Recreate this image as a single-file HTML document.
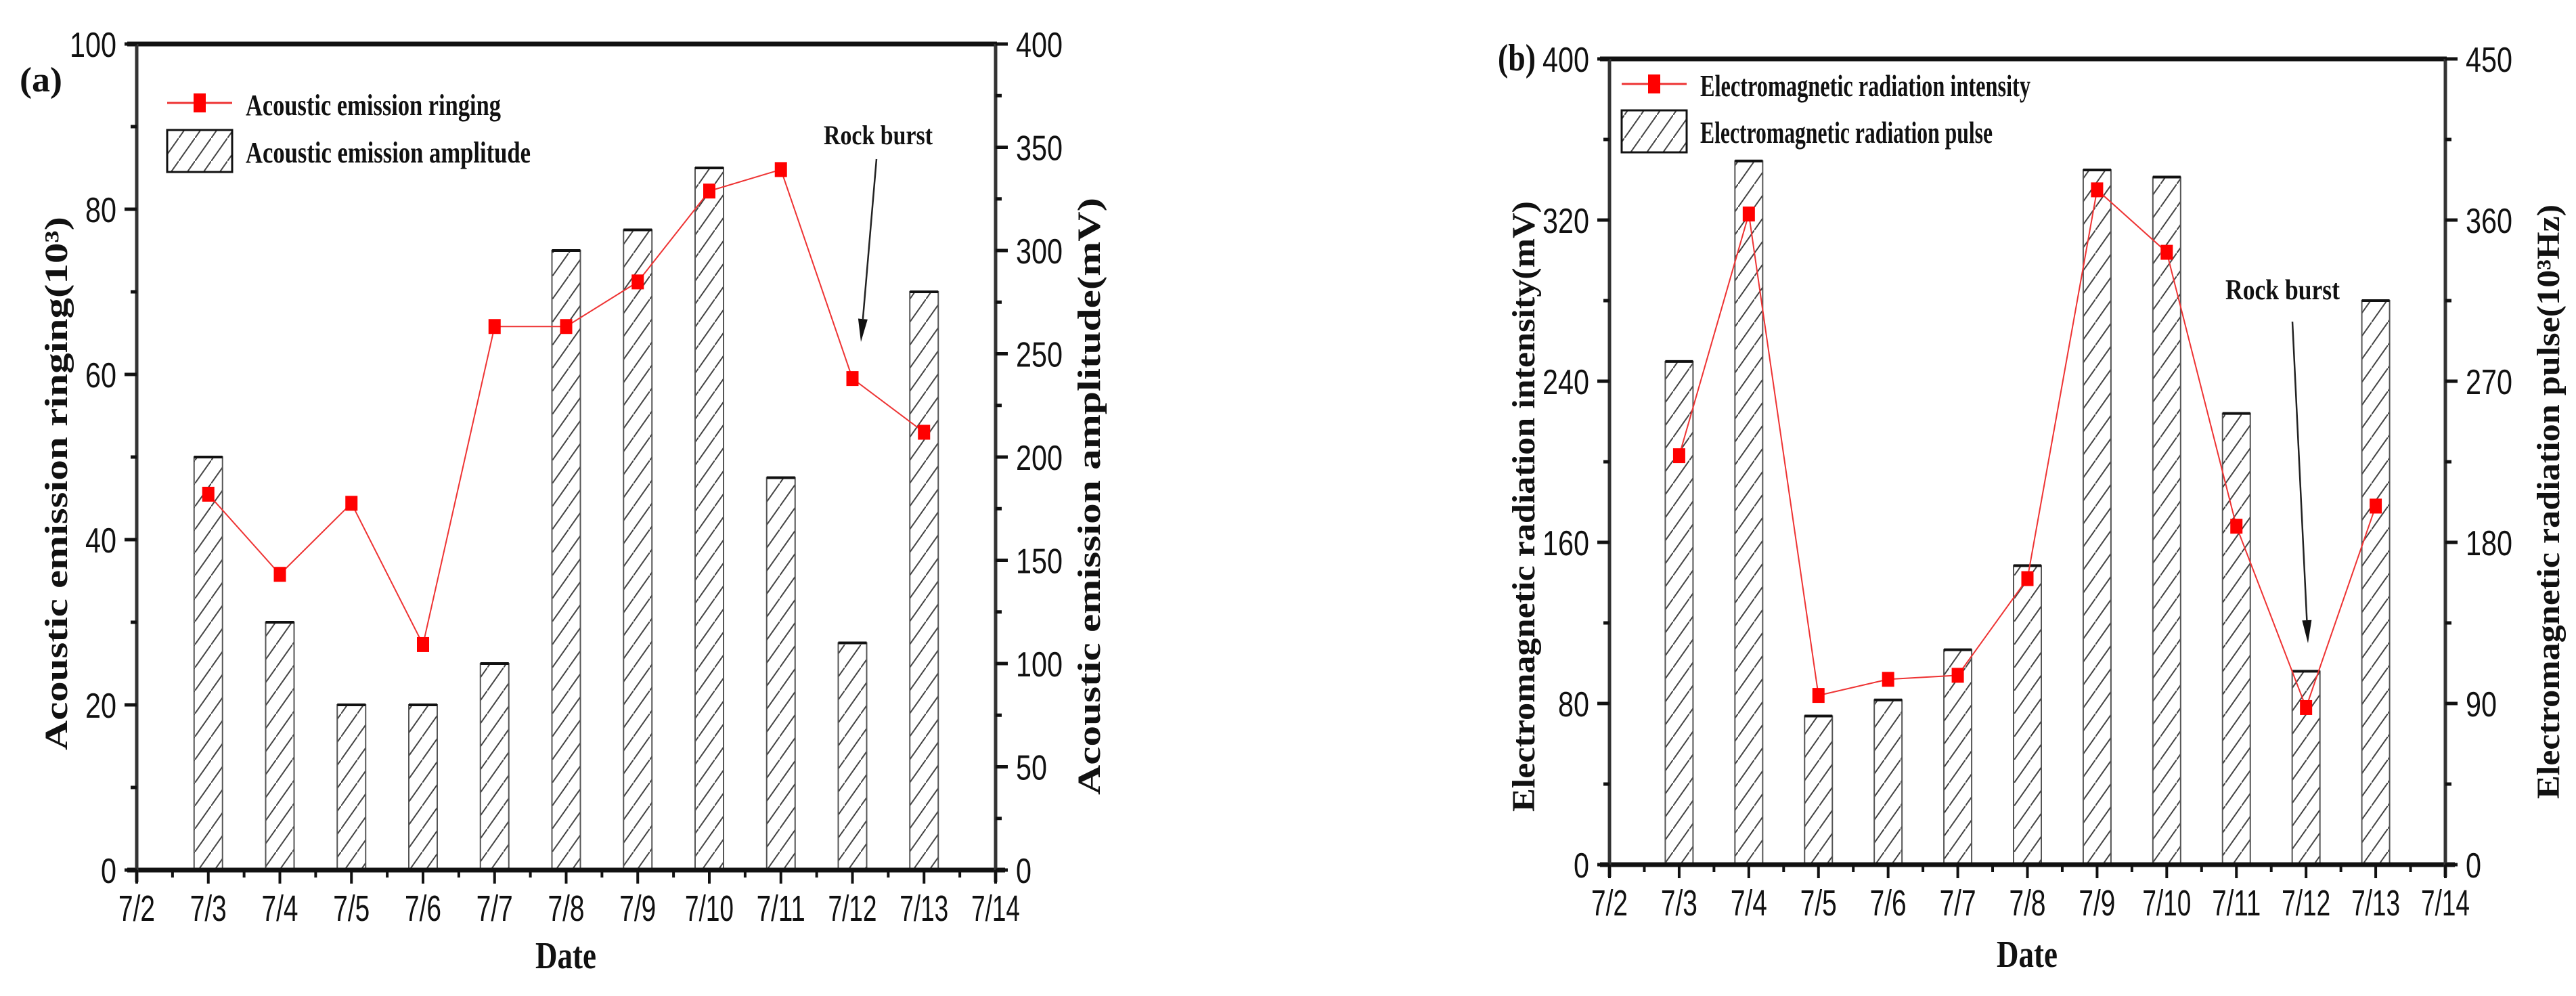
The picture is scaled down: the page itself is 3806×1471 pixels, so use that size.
<!DOCTYPE html>
<html><head><meta charset="utf-8">
<style>
html,body{margin:0;padding:0;background:#fff;}
svg{display:block;}
</style></head>
<body>
<svg id="fig" width="3806" height="1471" viewBox="0 0 3806 1471" xmlns="http://www.w3.org/2000/svg">
<defs>
<pattern id="hatch" patternUnits="userSpaceOnUse" width="24" height="34">
<line x1="-6" y1="42.5" x2="30" y2="-8.5" stroke="#444" stroke-width="2"/>
</pattern>
</defs>
</svg>
<script>
// ----- Panel (a) data -----
const catsA = ["7/2","7/3","7/4","7/5","7/6","7/7","7/8","7/9","7/10","7/11","7/12","7/13","7/14"];
const ringA = [45.5,35.8,44.4,27.3,65.8,65.8,71.2,82.2,84.8,59.5,53.0];
const ampA = [200,120,80,80,100,300,310,340,190,110,280];
const leftTicksA = [0,20,40,60,80,100];
const rightTicksA = [0,50,100,150,200,250,300,350,400];
// ----- Panel (b) data -----
const catsB = ["7/2","7/3","7/4","7/5","7/6","7/7","7/8","7/9","7/10","7/11","7/12","7/13","7/14"];
const intenB = [203,323,84,92,94,142,335,304,168,78,178];
const pulseB = [281,393,83,92,120,167,388,384,252,108,315];
const leftTicksB = [0,80,160,240,320,400];
const rightTicksB = [0,90,180,270,360,450];

const NS = "http://www.w3.org/2000/svg";
const svg = document.getElementById('fig');
function mk(tag, attrs, parent){
  const e = document.createElementNS(NS, tag);
  for (const k in attrs) e.setAttribute(k, attrs[k]);
  (parent||svg).appendChild(e);
  return e;
}
function txt(s, x, y, size, anchor, len, serif, bold, rot, parent){
  const t = mk('text', {x:0, y:0, 'font-size':size,
    'font-family': serif ? '"Liberation Serif", serif' : '"Liberation Sans", sans-serif',
    'font-weight': bold ? 'bold' : 'normal', 'text-anchor': anchor || 'start', fill:'#111',
    transform: 'translate(' + x + ',' + y + ')' + (rot ? ' rotate(' + rot + ')' : '')}, parent);
  if (len) { t.setAttribute('textLength', len); t.setAttribute('lengthAdjust', 'spacingAndGlyphs'); }
  t.textContent = s;
  return t;
}

function panel(o){
  const g = mk('g', {});
  
  
  const n = o.cats.length - 1;
  const xS = i => o.L + (o.R - o.L) * i / n;
  const yL = v => o.B - (o.B - o.T) * v / o.lMax;
  const yR = v => o.B - (o.B - o.T) * v / o.rMax;
  // bars
  const bars = mk('g', {}, g);
  
  
  o.bars.forEach((v, i) => {
    const cx = xS(i + 1), y = yR(v), w = o.bw;
    const r = mk('rect', {x: cx - w/2, y: y, width: w, height: o.B - y, fill: 'url(#hatch)', stroke: '#555', 'stroke-width': 2}, bars);
    
    
    const top = mk('line', {x1: cx - w/2, x2: cx + w/2, y1: y, y2: y, stroke: '#111', 'stroke-width': 4}, bars);
    
    
  });
  // line
  const pts = o.line.map((v, i) => xS(i + 1) + ',' + yL(v)).join(' ');
  const pl = mk('polyline', {points: pts, fill: 'none', stroke: '#e33', 'stroke-width': 2}, g);
  
  
  o.line.forEach((v, i) => {
    const m = mk('rect', {x: xS(i + 1) - 9, y: yL(v) - 11, width: 18, height: 22, fill: '#f00'}, g);
    
    
  });
  // axes
  const ax = mk('g', {stroke: '#111', fill: 'none'}, g);
  
  
  mk('line', {x1: o.L - 14, x2: o.R + 2, y1: o.T, y2: o.T, 'stroke-width': 7}, ax);
  mk('line', {x1: o.L - 14, x2: o.R + 14, y1: o.B, y2: o.B, 'stroke-width': 7}, ax);
  mk('line', {x1: o.L, x2: o.L, y1: o.T, y2: o.B + 18, 'stroke-width': 5, stroke: '#333'}, ax);
  mk('line', {x1: o.R, x2: o.R, y1: o.T, y2: o.B + 18, 'stroke-width': 5, stroke: '#333'}, ax);
  // x ticks
  for (let i = 0; i <= n; i++) {
    mk('line', {x1: xS(i), x2: xS(i), y1: o.B, y2: o.B + 20, 'stroke-width': 4}, ax);
    if (i < n) mk('line', {x1: (xS(i) + xS(i+1))/2, x2: (xS(i) + xS(i+1))/2, y1: o.B, y2: o.B + 11, 'stroke-width': 4}, ax);
    const lab = o.cats[i];
    const t = txt(lab, xS(i), o.B + 75, 54, 'middle', lab.length > 3 ? 72 : 54, false, false, 0, g);
    
    
  }
  // left ticks
  o.lTicks.forEach((v, i) => {
    mk('line', {x1: o.L - 18, x2: o.L, y1: yL(v), y2: yL(v), 'stroke-width': 5}, ax);
    if (i < o.lTicks.length - 1) {
      const m = (v + o.lTicks[i+1]) / 2;
      mk('line', {x1: o.L - 9, x2: o.L, y1: yL(m), y2: yL(m), 'stroke-width': 5}, ax);
    }
    const s = String(v);
    const t = txt(s, o.L - 30, yL(v) + 19, 52, 'end', s.length * 23, false, false, 0, g);
    
    
  });
  o.rTicks.forEach((v, i) => {
    mk('line', {x1: o.R, x2: o.R + 18, y1: yR(v), y2: yR(v), 'stroke-width': 5}, ax);
    if (i < o.rTicks.length - 1) {
      const m = (v + o.rTicks[i+1]) / 2;
      mk('line', {x1: o.R, x2: o.R + 9, y1: yR(m), y2: yR(m), 'stroke-width': 5}, ax);
    }
    const s = String(v);
    const t = txt(s, o.R + 30, yR(v) + 19, 52, 'start', s.length * 23, false, false, 0, g);
    
    
  });
  return {g, xS, yL, yR};
}

const A = panel({name: 'panel-a', cats: catsA, L: 202, R: 1471, T: 65, B: 1285, lMax: 100, rMax: 400,
  bars: ampA, line: ringA, lTicks: leftTicksA, rTicks: rightTicksA, bw: 42});
const B = panel({name: 'panel-b', cats: catsB, L: 2378, R: 3613, T: 87, B: 1277, lMax: 400, rMax: 450,
  bars: pulseB, line: intenB, lTicks: leftTicksB, rTicks: rightTicksB, bw: 41});

// ----- Static labels -----
function legend(g, x, y1, y2, t1, w1, t2, w2, size){
  const lg = mk('g', {}, g);
  
  
  mk('line', {x1: x, x2: x + 96, y1: y1, y2: y1, stroke: '#e33', 'stroke-width': 3}, lg);
  mk('rect', {x: x + 39, y: y1 - 14, width: 18, height: 28, fill: '#f00'}, lg);
  mk('rect', {x: x, y: y2 - 30, width: 96, height: 62, fill: 'url(#hatch)', stroke: '#111', 'stroke-width': 3}, lg);
  txt(t1, x + 116, y1 + 18, size, 'start', w1, true, true, 0, lg);
  txt(t2, x + 116, y2 + 18, size, 'start', w2, true, true, 0, lg);
}
legend(A.g, 247, 152, 222, 'Acoustic emission ringing', 377, 'Acoustic emission amplitude', 421, 44);
legend(B.g, 2396, 124, 193, 'Electromagnetic radiation intensity', 488, 'Electromagnetic radiation pulse', 432, 46);

let t;
t = txt('(a)', 29, 135, 52, 'start', 63, true, true, 0, A.g);
 
t = txt('(b)', 2213, 104, 56, 'start', 56, true, true, 0, B.g);
 

t = txt('Date', 836, 1430, 56, 'middle', 90, true, true, 0, A.g);
 
t = txt('Date', 2995, 1428, 56, 'middle', 90, true, true, 0, B.g);
 

function ytitle(g, s, x, yc, len, name){
  const tt = txt(s, x, yc, 48, 'middle', len, true, true, -90, g);
  
  
  return tt;
}
ytitle(A.g, 'Acoustic emission ringing(10³)', 99, 714, 788, 'left-y-axis-title');
ytitle(A.g, 'Acoustic emission amplitude(mV)', 1625, 733, 882, 'right-y-axis-title');
ytitle(B.g, 'Electromagnetic radiation intensity(mV)', 2267, 748, 902, 'left-y-axis-title');
ytitle(B.g, 'Electromagnetic radiation pulse(10³Hz)', 3781, 741, 878, 'right-y-axis-title');

// annotations
function arrow(g, x1, y1, x2, y2){
  const a = mk('g', {}, g);
  
  
  const dx = x2 - x1, dy = y2 - y1, L = Math.hypot(dx, dy), ux = dx / L, uy = dy / L;
  const hx = x2 - ux * 34, hy = y2 - uy * 34;
  mk('line', {x1: x1, y1: y1, x2: hx, y2: hy, stroke: '#222', 'stroke-width': 2.5}, a);
  mk('polygon', {points: x2 + ',' + y2 + ' ' + (hx - uy * 7) + ',' + (hy + ux * 7) + ' ' + (hx + uy * 7) + ',' + (hy - ux * 7), fill: '#111'}, a);
}
t = txt('Rock burst', 1217, 213, 40, 'start', 161, true, true, 0, A.g);
 
arrow(A.g, 1295, 235, 1272, 505);
t = txt('Rock burst', 3288, 442, 42, 'start', 169, true, true, 0, B.g);
 
arrow(B.g, 3387, 475, 3410, 950);
</script>
</body></html>
